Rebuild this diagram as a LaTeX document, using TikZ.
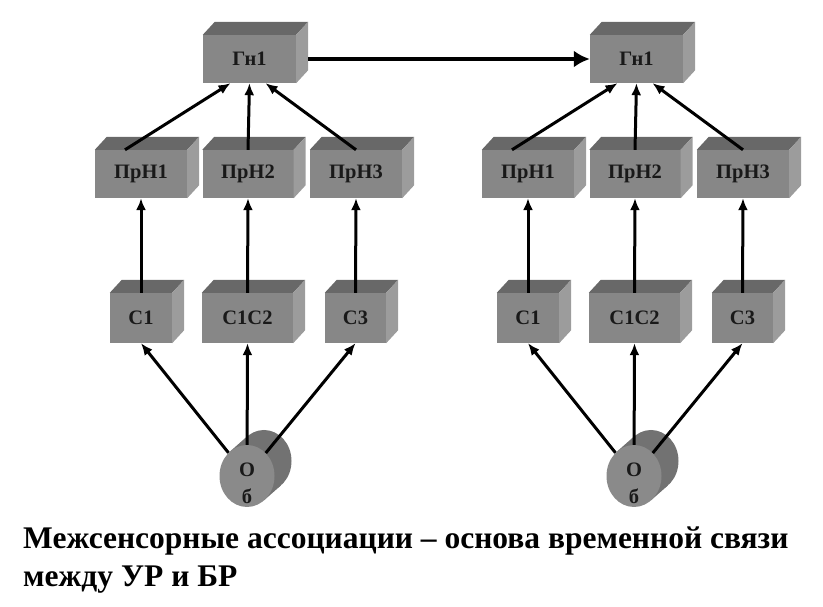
\documentclass[tikz,border=0pt]{standalone}
\usepackage{fontspec}
\setmainfont{Liberation Serif}
\usetikzlibrary{arrows.meta,shapes.geometric}
\definecolor{frontgray}{HTML}{878787}
\definecolor{topgray}{HTML}{686868}
\definecolor{sidegray}{HTML}{9C9C9C}
\definecolor{cylfront}{HTML}{8A8A8A}
\definecolor{cylback}{HTML}{727272}

\begin{document}
\begin{tikzpicture}[x=1pt,y=1pt,
	box/.style={fill=frontgray,inner sep=0pt,minimum height=48pt,text=black!90,
		font=\bfseries\fontsize{20.5}{24}\selectfont},
	cyl/.style={ellipse,fill=cylfront,inner sep=0pt,minimum width=55pt,minimum height=62pt},
	arr/.style={line width=3pt,-{Latex[length=12pt,width=10pt]}},
	bigarr/.style={line width=4.5pt,-{Latex[length=16pt,width=17pt]}}]
	\useasboundingbox (0,0) rectangle (823,607);
	\foreach \dx/\s in {0/L,387/R}{
		% blocks
		\node[box,minimum width=93pt] (g\s) at ({249.5+\dx},548) {Гн1};
		\node[box,minimum width=92pt] (p1\s) at ({141+\dx},433) {ПрН1};
		\node[box,minimum width=91pt] (p2\s) at ({248+\dx},433) {ПрН2};
		\node[box,minimum width=92pt] (p3\s) at ({356+\dx},433) {ПрН3};
		\node[box,minimum width=62pt,minimum height=50pt] (c1\s) at ({141+\dx},289) {С1};
		\node[box,minimum width=91pt,minimum height=50pt] (c12\s) at ({247.5+\dx},289) {С1С2};
		\node[box,minimum width=61pt,minimum height=50pt] (c3\s) at ({355.5+\dx},289) {С3};
		\foreach \n in {g,p1,p2,p3,c1,c12,c3}{
			\fill[topgray] (\n\s.north west) -- ++(12,13) -- ([shift={(12,13)}]\n\s.north east) -- (\n\s.north east) -- cycle;
			\fill[sidegray] (\n\s.north east) -- ++(12,13) -- ([shift={(12,13)}]\n\s.south east) -- (\n\s.south east) -- cycle;
		}
		% object
		\coordinate (o\s) at ({247+\dx},131);
		\fill[cylback] ([shift={(17,15)}]o\s) ellipse [x radius=27.5, y radius=31];
		\fill[cylback] ([shift={(-52.4:27.5 and 31)}]o\s) -- ++(17,15) -- ++(-33.6,49.2) -- ++(-17,-15) -- cycle;
		\node[cyl] (ob\s) at (o\s) {};
		\node[align=center,inner sep=0pt,text=black!90,font=\bfseries\fontsize{20.5}{27}\selectfont] (obt\s) at ([yshift=-7.5]o\s) {О\\б};
		% links
		\draw[arr] (ob\s) -- (c1\s.south);
		\draw[arr] (ob\s) -- (c12\s.south);
		\draw[arr] (ob\s) -- (c3\s.south);
		\draw[arr] (c1\s.north) -- (p1\s.south);
		\draw[arr] (c12\s.north) -- (p2\s.south);
		\draw[arr] (c3\s.north) -- (p3\s.south);
		\draw[arr] ([xshift=-16]p1\s.north) -- ([xshift=-19]g\s.south);
		\draw[arr] (p2\s.north) -- (g\s.south);
		\draw[arr] (p3\s.north) -- ([xshift=16]g\s.south);
	}
	\draw[bigarr,shorten <=12pt] (gL.east) -- (gR.west);
	\node[anchor=north west,align=left,inner sep=0pt,font=\bfseries\fontsize{31.5}{38}\selectfont] (title) at (23,80)
		{Межсенсорные ассоциации – основа временной связи\\между УР и БР};
\end{tikzpicture}
\end{document}
